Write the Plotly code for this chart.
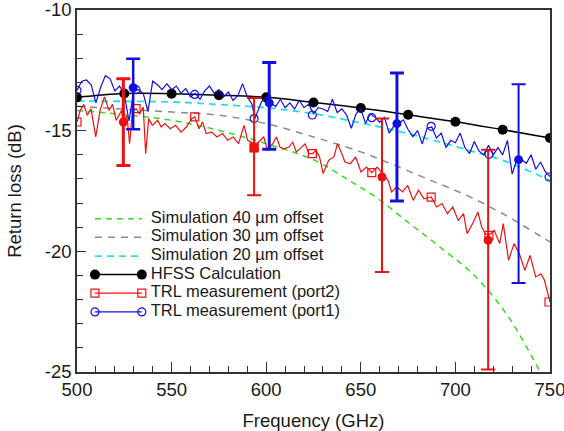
import plotly.graph_objects as go

# ---------------- data ----------------
hfss_f = [500, 525, 550, 575, 600, 625, 650, 675, 700, 725, 750]
hfss_db = [-13.62, -13.46, -13.47, -13.53, -13.62, -13.83, -14.06, -14.34, -14.63, -14.96, -15.30]

sim_f = [500, 550, 575, 600, 625, 650, 668, 687, 706, 725, 750]
sim20_db = [-13.78, -13.81, -13.92, -14.05, -14.30, -14.68, -14.99, -15.37, -15.79, -16.23, -17.06]
sim30_db = [-13.99, -14.23, -14.36, -14.71, -15.26, -15.88, -16.44, -17.06, -17.68, -18.44, -19.61]
sim40_f = [500, 550, 575, 600, 626, 644, 658, 676, 692, 710, 727, 740, 750]
sim40_db = [-14.16, -14.57, -14.99, -15.54, -16.24, -17.07, -17.76, -18.86, -19.83, -21.00, -22.60, -24.30, -25.80]

port2_f = [500.0, 501.7, 503.6, 505.5, 507.4, 509.9, 512.2, 514.5, 516.9, 518.8, 520.7, 523.6, 524.5,
           526.4, 527.8, 529.3, 531.2, 533.1, 535.0, 536.3, 537.9, 539.8, 542.6, 544.5, 546.4, 549.3,
           552.1, 555.0, 557.8, 560.7, 562.2, 564.5, 566.4, 568.3, 571.2, 574.0, 576.9, 579.7, 582.6,
           585.4, 588.3, 590.2, 592.1, 594.0, 595.9, 598.7, 600.6, 603.5, 605.4, 607.3, 609.2, 612.1,
           614.0, 615.9, 618.7, 620.6, 622.5, 624.4, 626.3, 628.2, 630.1, 633.0, 635.8, 637.7, 639.6,
           641.6, 644.4, 647.3, 650.1, 653.0, 655.8, 658.7, 661.5, 664.4, 666.3, 669.1, 672.0, 674.8,
           677.7, 680.5, 683.4, 687.2, 690.1, 692.9, 695.8, 698.6, 701.5, 704.3, 706.2, 709.1, 711.9,
           713.9, 715.8, 717.7, 720.5, 723.4, 725.3, 728.1, 731.0, 733.8, 736.7, 739.5, 742.4, 745.2,
           747.1, 750.0]
port2_db = [-14.64, -14.16, -13.91, -14.36, -14.09, -15.26, -14.16, -13.60, -14.16, -13.91, -14.57, -14.16, -14.64,
            -14.36, -15.54, -14.16, -14.09, -14.30, -14.02, -15.95, -14.50, -14.78, -14.57, -14.85, -14.71, -14.92,
            -14.78, -15.06, -14.85, -14.50, -14.43, -14.92, -14.64, -15.12, -15.06, -15.26, -15.12, -15.40, -15.26,
            -15.54, -14.78, -15.40, -15.47, -15.68, -15.47, -15.26, -15.81, -15.54, -15.26, -15.68, -15.75, -15.68,
            -15.47, -15.88, -15.68, -15.54, -15.95, -15.95, -15.81, -16.09, -16.78, -16.23, -16.09, -15.54, -15.88,
            -16.30, -16.37, -16.09, -16.71, -16.51, -16.74, -16.51, -16.78, -17.06, -17.54, -17.33, -17.54, -17.27,
            -17.89, -17.47, -17.82, -17.75, -18.16, -18.02, -18.44, -18.16, -18.72, -18.44, -19.27, -18.85, -18.37,
            -18.99, -19.27, -19.34, -19.13, -19.68, -18.85, -20.37, -19.68, -20.10, -20.79, -20.17, -21.06, -20.93,
            -21.20, -22.10]

port1_f = [500.0, 502.5, 505.0, 507.5, 510.0, 512.5, 515.0, 517.5, 520.0, 522.5, 525.0, 527.5, 530.0,
           532.5, 535.0, 537.5, 540.0, 542.5, 545.0, 547.5, 550.0, 552.5, 555.0, 557.5, 560.0, 562.5,
           565.0, 567.5, 570.0, 572.5, 575.0, 577.5, 580.0, 582.5, 585.0, 587.5, 590.0, 592.5, 594.0,
           597.5, 600.0, 602.5, 605.0, 607.5, 610.0, 612.5, 615.0, 617.5, 620.0, 622.5, 625.0, 627.5,
           630.0, 632.5, 635.0, 637.5, 640.0, 642.5, 645.0, 647.5, 650.0, 652.5, 655.0, 657.5, 660.0,
           662.5, 665.0, 667.5, 670.0, 672.5, 675.0, 677.5, 680.0, 682.5, 685.0, 687.5, 690.0, 692.5,
           695.0, 697.5, 700.0, 702.5, 705.0, 707.5, 710.0, 712.5, 715.0, 717.5, 720.0, 722.5, 725.0,
           727.5, 730.0, 732.5, 735.0, 737.5, 740.0, 742.5, 745.0, 747.5, 750.0]
port1_db = [-13.33, -12.95, -12.90, -13.10, -13.85, -13.20, -12.72, -12.85, -13.35, -13.15, -13.50, -14.60, -13.35,
            -13.30, -13.45, -14.20, -12.95, -13.10, -13.30, -13.05, -13.30, -13.15, -13.45, -13.25, -13.60, -13.45,
            -13.70, -13.35, -13.15, -13.45, -13.30, -13.60, -13.40, -13.75, -13.55, -13.05, -13.60, -13.90, -14.50,
            -13.80, -13.60, -13.85, -14.00, -13.70, -14.05, -13.85, -14.10, -13.75, -14.05, -13.90, -14.30, -14.05,
            -14.10, -14.20, -13.70, -14.25, -14.10, -14.35, -14.90, -14.30, -14.10, -14.70, -14.30, -14.45, -14.65,
            -14.45, -15.10, -14.80, -14.70, -14.55, -14.95, -15.25, -15.00, -15.55, -14.90, -14.85, -15.30, -15.10,
            -15.70, -15.40, -15.50, -15.10, -15.70, -15.95, -15.45, -15.85, -16.00, -15.60, -16.00, -15.70, -16.00,
            -15.40, -16.80, -16.20, -16.20, -16.35, -16.00, -16.60, -16.30, -16.70, -16.90]

marker_f = [500, 531.2, 562.2, 593.6, 624.4, 655.8, 687.2, 717.7, 749.5]
port2_marker_db = [-14.64, -14.09, -14.43, -15.68, -15.95, -16.74, -17.75, -19.34, -22.10]
port1_marker_db = [-13.33, -13.30, -13.50, -14.50, -14.35, -14.46, -14.82, -15.98, -16.92]

# error bars: frequency, centre value, upper end, lower end
err2_f = [524.5, 593.6, 661.2, 717.3]
err2_mid = [-14.64, -15.72, -16.92, -19.54]
err2_top = [-12.85, -13.65, -14.50, -15.79]
err2_bot = [-16.44, -17.68, -20.86, -24.90]
err2_sym = ["circle", "square", "circle", "circle"]

err1_f = [529.7, 601.6, 669.1, 733.4]
err1_mid = [-13.22, -13.85, -14.71, -16.20]
err1_top = [-12.02, -12.18, -12.61, -13.08]
err1_bot = [-14.94, -15.77, -17.91, -21.31]

y_ticks = [-25, -20, -15, -10]
y_tick_text = ["-25", "-20", "-15", "-10"]
x_ticks = [500, 550, 600, 650, 700, 750]

legend_names = ["Simulation 40 \u00b5m offset", "Simulation 30 \u00b5m offset", "Simulation 20 \u00b5m offset",
                "HFSS Calculation", "TRL measurement (port2)", "TRL measurement (port1)"]

# ---------------- styles ----------------
RED = "#f01010"
BLUE = "#1010e0"
GREEN = "#33dd22"
GRAY = "#8a8a8a"
CYAN = "#22e0f0"
TXT = "#1a1a1a"
FONT = "Liberation Sans, Arial, sans-serif"
err2_thick = [3, 2, 2, 2]
err1_thick = [2.5, 3, 3, 2]

sim40_line = dict(color=GREEN, width=1.5, dash="6px,5px")
sim30_line = dict(color=GRAY, width=1.5, dash="7px,6px")
sim20_line = dict(color=CYAN, width=1.8, dash="7px,5px")
hfss_line = dict(color="black", width=1.5)
hfss_marker = dict(color="black", size=10, symbol="circle")
p2_line = dict(color=RED, width=1.2)
p2_marker = dict(symbol="square-open", size=8, color=RED, line=dict(width=1.2))
p1_line = dict(color=BLUE, width=1.2)
p1_marker = dict(symbol="circle-open", size=8, color=BLUE, line=dict(width=1.2))

fig = go.Figure()

fig.add_trace(go.Scatter(x=sim40_f, y=sim40_db, mode="lines", line=sim40_line, line_shape="spline"))
fig.add_trace(go.Scatter(x=sim_f, y=sim30_db, mode="lines", line=sim30_line, line_shape="spline"))
fig.add_trace(go.Scatter(x=sim_f, y=sim20_db, mode="lines", line=sim20_line, line_shape="spline"))
fig.add_trace(go.Scatter(x=hfss_f, y=hfss_db, mode="lines+markers", line=hfss_line,
                         line_shape="spline", marker=hfss_marker))

fig.add_trace(go.Scatter(x=port2_f, y=port2_db, mode="lines", line=p2_line))
fig.add_trace(go.Scatter(x=marker_f, y=port2_marker_db, mode="markers", marker=p2_marker))
fig.add_trace(go.Scatter(x=port1_f, y=port1_db, mode="lines", line=p1_line))
fig.add_trace(go.Scatter(x=marker_f, y=port1_marker_db, mode="markers", marker=p1_marker))

for i in range(len(err2_f)):
    fig.add_trace(go.Scatter(
        x=[err2_f[i]], y=[err2_mid[i]], mode="markers",
        marker=dict(symbol=err2_sym[i], size=9, color=RED),
        error_y=dict(type="data", symmetric=False,
                     array=[err2_top[i] - err2_mid[i]], arrayminus=[err2_mid[i] - err2_bot[i]],
                     color=RED, thickness=err2_thick[i], width=7)))
for i in range(len(err1_f)):
    fig.add_trace(go.Scatter(
        x=[err1_f[i]], y=[err1_mid[i]], mode="markers",
        marker=dict(symbol="circle", size=9, color=BLUE),
        error_y=dict(type="data", symmetric=False,
                     array=[err1_top[i] - err1_mid[i]], arrayminus=[err1_mid[i] - err1_bot[i]],
                     color=BLUE, thickness=err1_thick[i], width=7)))

# ---- legend drawn on an overlay axis (0..1 over the plot area) ----
L_X0, L_X1, L_TX = 0.038, 0.137, 0.156
L_ROWS = [0.423, 0.372, 0.320, 0.269, 0.218, 0.166]
leg_styles = [
    dict(mode="lines", line=sim40_line),
    dict(mode="lines", line=sim30_line),
    dict(mode="lines", line=sim20_line),
    dict(mode="lines+markers", line=hfss_line, marker=hfss_marker),
    dict(mode="lines+markers", line=p2_line, marker=p2_marker),
    dict(mode="lines+markers", line=p1_line, marker=p1_marker),
]
for row, st in zip(L_ROWS, leg_styles):
    fig.add_trace(go.Scatter(x=[L_X0, L_X1], y=[row, row], xaxis="x2", yaxis="y2",
                             hoverinfo="skip", **st))
fig.add_trace(go.Scatter(x=[L_TX] * len(L_ROWS), y=L_ROWS, xaxis="x2", yaxis="y2",
                         mode="text", text=legend_names, textposition="middle right",
                         textfont=dict(family=FONT, size=16.5, color=TXT), hoverinfo="skip"))

axis_common = dict(showline=True, linecolor="#333", linewidth=1.5, mirror=True, automargin=False,
                   ticks="inside", tickcolor="#333", tickwidth=1.2, showgrid=False, zeroline=False,
                   tickfont=dict(family=FONT, size=18.5, color=TXT))

fig.update_layout(
    template="none",
    width=564, height=431,
    margin=dict(l=77, r=14, t=10, b=59),
    paper_bgcolor="white", plot_bgcolor="white",
    font=dict(family=FONT, color=TXT),
    showlegend=False,
    xaxis=dict(range=[500, 750], tickvals=x_ticks, ticklen=10, ticklabeloverflow="allow",
               minor=dict(dtick=10, tick0=500, ticks="inside", ticklen=6, tickcolor="#333", showgrid=False),
               title=dict(text="Frequency (GHz)", font=dict(family=FONT, size=18.5, color=TXT), standoff=18),
               **axis_common),
    yaxis=dict(range=[-25, -10], tickvals=y_ticks, ticktext=y_tick_text, ticklen=9,
               ticklabeloverflow="allow",
               minor=dict(dtick=1, tick0=-25, ticks="inside", ticklen=6, tickcolor="#333", showgrid=False),
               title=dict(text="Return loss (dB)", font=dict(family=FONT, size=18.5, color=TXT), standoff=18),
               **axis_common),
    xaxis2=dict(range=[0, 1], overlaying="x", visible=False, anchor="y2"),
    yaxis2=dict(range=[0, 1], overlaying="y", visible=False, anchor="x2"),
)

fig.write_html("out.html")
